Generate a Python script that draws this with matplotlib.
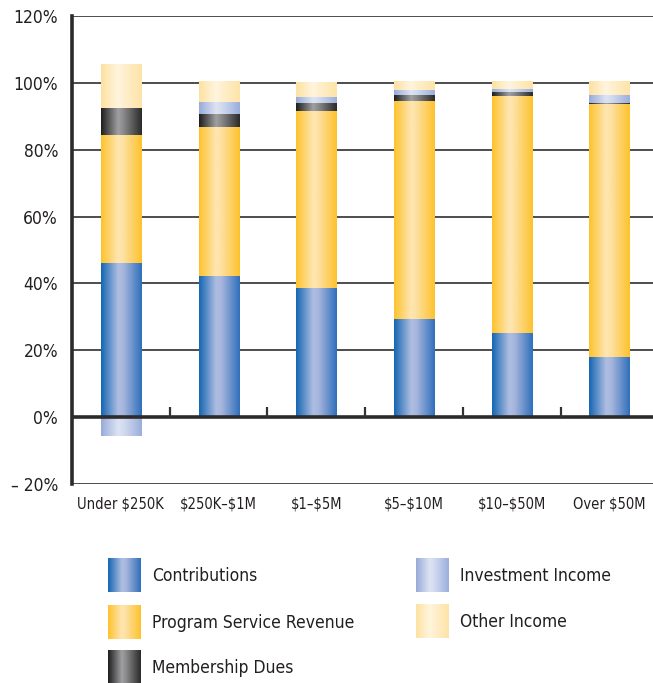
import numpy as np
import matplotlib.pyplot as plt
from matplotlib.colors import LinearSegmentedColormap

plt.rcParams['font.family'] = ['Liberation Sans Narrow', 'DejaVu Sans']
plt.rcParams['font.stretch'] = 'condensed'
plt.rcParams['text.parse_math'] = False

categories = ["Under $250K", "$250K\u2013$1M", "$1\u2013$5M", "$5\u2013$10M", "$10\u2013$50M", "Over $50M"]
contributions = [46.2, 42.2, 38.7, 29.4, 25.1, 18.0]
program_rev   = [38.2, 44.6, 52.9, 65.2, 71.0, 75.7]
membership    = [8.1, 3.9, 2.4, 1.8, 1.2, 0.4]
investment    = [-5.7, 3.6, 1.8, 1.5, 0.9, 2.3]
other_income  = [12.9, 6.0, 4.2, 2.4, 2.1, 3.9]

series = [
    ("Contributions", contributions, ["#1466b3", "#aebde0", "#a7b6dd", "#2f6fbb"]),
    ("Program Service Revenue", program_rev, ["#fdc22c", "#fee6b2", "#fee0a0", "#fdc22c"]),
    ("Membership Dues", membership, ["#1e1e1e", "#a0a0a2", "#8a8a8c", "#2a2a2a"]),
    ("Investment Income", investment, ["#97abd9", "#dde3f3", "#d3dbf0", "#9aaedb"]),
    ("Other Income", other_income, ["#fde1a0", "#fff5df", "#fff0cf", "#fde3a6"]),
]

grad = np.linspace(0, 1, 256).reshape(1, -1)

def make_cmap(cols):
    return LinearSegmentedColormap.from_list("g", list(zip([0, 0.42, 0.55, 1], cols)))

fig = plt.figure(figsize=(6.53, 6.83), dpi=100)
ax = fig.add_axes([72 / 653, 1 - 484 / 683, 1 - 72 / 653, 468 / 683])

x = np.arange(len(categories))
pos = np.zeros(len(categories))
neg = np.zeros(len(categories))
for name, vals, cols in series:
    vals = np.array(vals)
    bottoms = np.where(vals >= 0, pos, neg)
    bars = ax.bar(x, vals, 0.41, bottom=bottoms, color="none", linewidth=0)
    cmap = make_cmap(cols)
    for b in bars:
        x0, y0 = b.get_x(), b.get_y()
        w, h = b.get_width(), b.get_height()
        if h == 0:
            continue
        ax.imshow(grad, cmap=cmap, aspect="auto", interpolation="bilinear",
                  extent=[x0, x0 + w, y0, y0 + h], zorder=3)
    pos = pos + np.where(vals >= 0, vals, 0)
    neg = neg + np.where(vals < 0, vals, 0)

ax.set_xlim(-0.5, 5.445)
ax.set_ylim(-20, 120)
ax.set_yticks(np.arange(-20, 121, 20))
ax.set_yticklabels(["\u2013 20%" if v < 0 else f"{v}%" for v in range(-20, 121, 20)], fontsize=12.5)
ax.set_xticks(x)
ax.set_xticklabels(categories, fontsize=10.5)
ax.tick_params(axis="both", length=0, colors="#231f20")
ax.tick_params(axis="y", pad=10)
ax.tick_params(axis="x", pad=9)

for v in range(-20, 121, 20):
    if v == 0:
        continue
    ax.axhline(v, color="#4d4d4d", lw=1.4, zorder=1)
ax.axhline(0, color="#2b2b2b", lw=2.6, zorder=4)
ax.vlines(x[:-1] + 0.5, 0, 3, color="#333333", lw=1.6, zorder=4)

for s in ["top", "right", "bottom"]:
    ax.spines[s].set_visible(False)
ax.spines["left"].set_linewidth(2.6)
ax.spines["left"].set_color("#2b2b2b")
ax.spines["left"].set_zorder(5)

# legend drawn in figure pixel space
lax = fig.add_axes([0, 0, 1, 1], zorder=-1)
lax.axis("off")
legend_pos = [(108, 558), (108, 605), (108, 650), (416, 558), (416, 604)]
for (name, vals, cols), (lx, ly) in zip(series, legend_pos):
    lax.imshow(grad, cmap=make_cmap(cols), aspect="auto", interpolation="bilinear",
               extent=[lx, lx + 33, ly + 34, ly])
    lax.text(lx + 44, ly + 18, name, fontsize=12.5, va="center", ha="left", color="#231f20")
lax.set_xlim(0, 653)
lax.set_ylim(683, 0)

fig.savefig("out.png", dpi=100)
